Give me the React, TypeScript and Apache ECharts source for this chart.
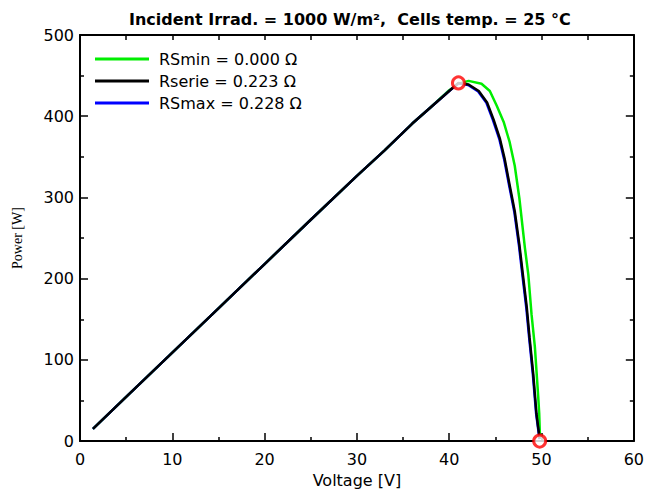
import React, { useEffect, useRef } from "react";
import * as echarts from "echarts";

// ---- Data ----
const titleText = "Incident Irrad. = 1000 W/m²,  Cells temp. = 25 °C";
const xTitle = "Voltage [V]";
const yTitle = "Power [W]";

const seriesNames = ["RSmin = 0.000 Ω", "Rserie = 0.223 Ω", "RSmax = 0.228 Ω"];
const seriesColors = ["#00ee00", "#000000", "#0000ff"];

// RSmin (green)
const rsMinV = [1.4, 5, 10, 15, 20, 25, 30, 33, 36, 38, 40, 41.0, 42.1, 43.5, 44.4, 45.15, 45.9, 46.55, 47.1, 47.6, 48.2, 48.57, 48.92, 49.28, 49.64, 49.75, 49.82, 49.85];
const rsMinP = [15, 54.5, 109, 163.5, 218, 272.5, 326.5, 358, 391, 411, 432, 440, 443.5, 440, 431, 413, 393, 368, 339, 299, 238, 205, 156, 116, 55, 34, 10, 3];

// Rserie (black)
const rSerieV = [1.4, 5, 10, 15, 20, 25, 30, 33, 36, 38, 40, 41.0, 42.1, 43.2, 44.1, 44.8, 45.5, 46.0, 46.55, 47.1, 47.6, 48.0, 48.4, 48.7, 49.1, 49.45, 49.65, 49.8];
const rSerieP = [15, 54.5, 109, 163.5, 218, 272.5, 326.5, 358, 391, 411, 431, 441, 439, 431, 417, 396, 372, 348, 315, 283, 242, 203, 165, 128, 83, 34, 16, 3];

// RSmax (blue)
const rsMaxV = [1.4, 5, 10, 15, 20, 25, 30, 33, 36, 38, 40, 41.0, 42.05, 43.14, 44.03, 44.73, 45.44, 45.94, 46.5, 47.05, 47.55, 47.95, 48.35, 48.66, 49.06, 49.42, 49.63, 49.78];
const rsMaxP = [15, 54.5, 109, 163.5, 218, 272.5, 326.5, 358, 391, 411, 431, 440.5, 438.5, 430.5, 416.5, 395.5, 371.5, 347.5, 314.5, 282.5, 241.5, 202.5, 164.5, 127.5, 82.5, 33.5, 15.5, 2.5];

// Highlighted points: MPP and Voc
const markerV = [41.0, 49.8];
const markerP = [441, 0];

// Axis ranges
const xMin = 0, xMax = 60, xStep = 10;
const yMin = 0, yMax = 500, yStep = 100;

const zip = (v: number[], p: number[]) => v.map((x, i) => [x, p[i]]);

export default function App() {
  const ref = useRef<HTMLDivElement>(null);
  useEffect(() => {
    if (!ref.current) return;
    const chart = echarts.init(ref.current, null, { renderer: "svg" });
    const font = "DejaVu Sans";
    const axisCommon = {
      axisLine: { show: true, onZero: false, lineStyle: { color: "#000", width: 2 } },
      splitLine: { show: false },
    };
    chart.setOption({
      animation: false,
      backgroundColor: "#fff",
      title: {
        text: titleText,
        left: 124,
        top: 6,
        textStyle: { fontFamily: font, fontSize: 16, fontWeight: "bold", color: "#000" },
      },
      legend: {
        data: seriesNames,
        orient: "vertical",
        left: 90,
        top: 45,
        itemWidth: 54,
        itemHeight: 3,
        itemGap: 4,
        icon: "rect",
        textStyle: { fontFamily: font, fontSize: 16, color: "#000", lineHeight: 18, padding: [0, 0, 0, 5] },
      },
      grid: { left: 80, right: 9, top: 35, bottom: 48, containLabel: false },
      xAxis: [
        {
          ...axisCommon,
          type: "value",
          position: "bottom",
          min: xMin,
          max: xMax,
          interval: xStep,
          name: xTitle,
          nameLocation: "middle",
          nameGap: 28,
          nameTextStyle: { fontFamily: font, fontSize: 16, color: "#000" },
          axisTick: { show: true, inside: true, length: 8, lineStyle: { color: "#000", width: 1.5 } },
          minorTick: { show: true, splitNumber: 2, length: 4, lineStyle: { color: "#000", width: 1.5 } },
          axisLabel: { fontFamily: font, fontSize: 16, color: "#000", margin: 10 },
        },
        {
          ...axisCommon,
          type: "value",
          position: "top",
          min: xMin,
          max: xMax,
          interval: 5,
          axisTick: { show: true, inside: true, length: 5, lineStyle: { color: "#000", width: 1.5 } },
          axisLabel: { show: false },
        },
      ],
      yAxis: [
        {
          ...axisCommon,
          type: "value",
          position: "left",
          min: yMin,
          max: yMax,
          interval: yStep,
          name: yTitle,
          nameLocation: "middle",
          nameGap: 56,
          nameRotate: 90,
          nameTextStyle: { fontFamily: "Liberation Serif", fontSize: 14, color: "#000" },
          axisTick: { show: true, inside: true, length: 8, lineStyle: { color: "#000", width: 1.5 } },
          minorTick: { show: true, splitNumber: 2, length: 4, lineStyle: { color: "#000", width: 1.5 } },
          axisLabel: { fontFamily: font, fontSize: 16, color: "#000", margin: 6 },
        },
        {
          ...axisCommon,
          type: "value",
          position: "right",
          min: yMin,
          max: yMax,
          interval: yStep,
          axisTick: { show: true, inside: true, length: 8, lineStyle: { color: "#000", width: 1.5 } },
          minorTick: { show: true, splitNumber: 2, length: 4, lineStyle: { color: "#000", width: 1.5 } },
          axisLabel: { show: false },
        },
      ],
      series: [
        {
          name: seriesNames[0],
          type: "line",
          data: zip(rsMinV, rsMinP),
          showSymbol: false,
          color: seriesColors[0],
          lineStyle: { width: 2.5, color: seriesColors[0] },
          z: 2,
        },
        {
          name: seriesNames[2],
          type: "line",
          data: zip(rsMaxV, rsMaxP),
          showSymbol: false,
          color: seriesColors[2],
          lineStyle: { width: 2.5, color: seriesColors[2] },
          z: 3,
        },
        {
          name: seriesNames[1],
          type: "line",
          data: zip(rSerieV, rSerieP),
          showSymbol: false,
          color: seriesColors[1],
          lineStyle: { width: 2.5, color: seriesColors[1] },
          z: 4,
        },
        {
          name: "markers",
          type: "scatter",
          data: zip(markerV, markerP),
          symbol: "circle",
          symbolSize: 12,
          clip: false,
          itemStyle: { color: "#fff", borderColor: "#ff0000", borderWidth: 3 },
          z: 10,
        },
      ],
    });
    return () => chart.dispose();
  }, []);
  return (
    <div
      ref={ref}
      style={{ position: "fixed", left: 0, top: 0, width: 647, height: 493, background: "#fff" }}
    />
  );
}
